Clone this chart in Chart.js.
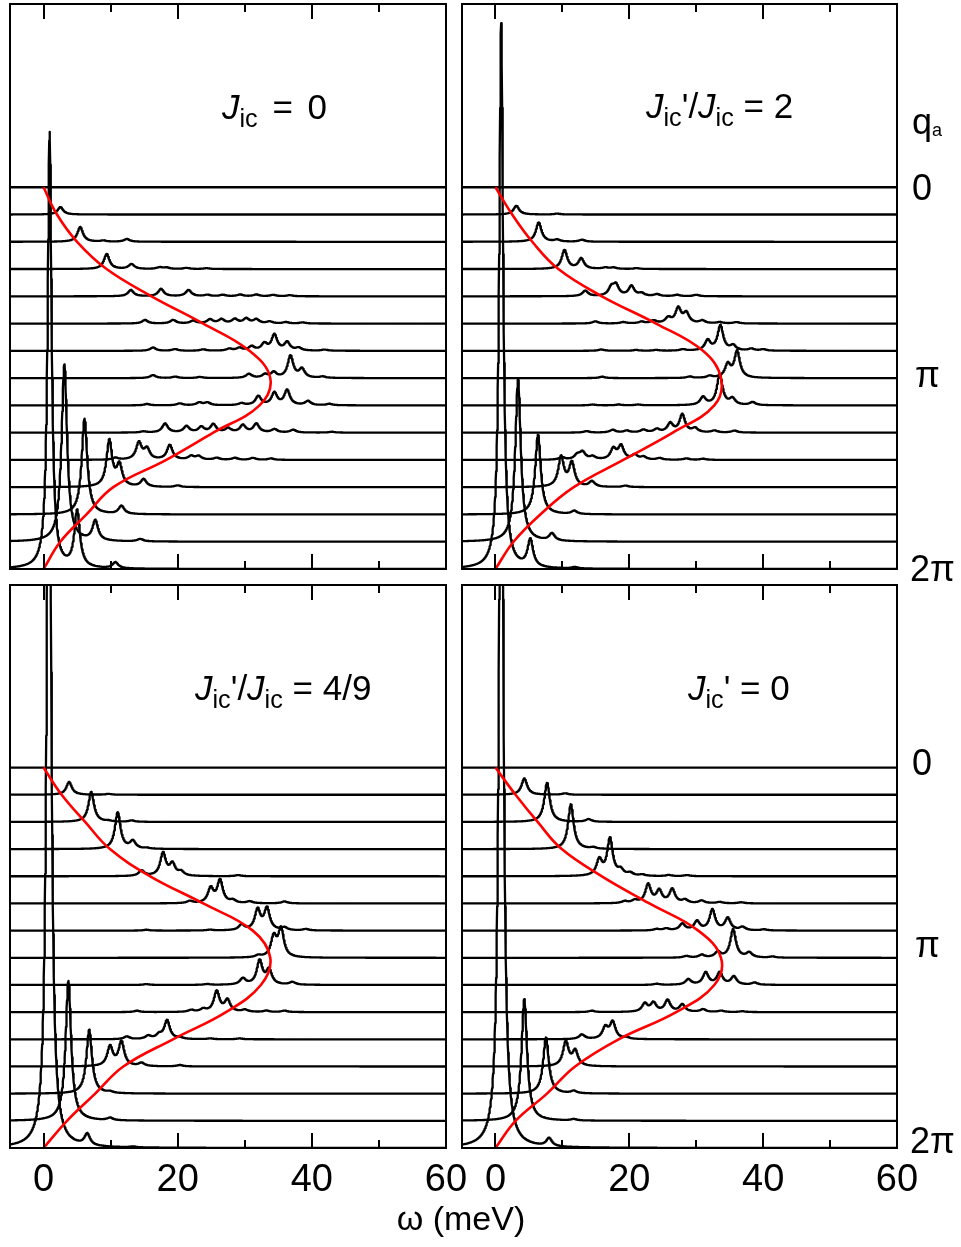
<!DOCTYPE html>
<html lang="en">
<head>
<meta charset="UTF-8">
<title>Spin-wave spectra vs q_a</title>
<script src="https://cdn.jsdelivr.net/npm/chart.js"></script>
<style>
  body { margin: 0; background: #fff; }
  #page { position: relative; width: 961px; height: 1247px; overflow: hidden;
          font-family: "Liberation Sans", Arial, sans-serif; color: #000; }
  #page canvas { position: absolute; left: 0; top: 0; }
  .lbl { position: absolute; white-space: nowrap; line-height: 1; }
  .title { font-size: 35px; }
  .title sub { font-size: 0.72em; vertical-align: -0.3em; line-height: 0; }
  .side { font-size: 36px; }
  .side sub { font-size: 0.5em; vertical-align: -0.1em; line-height: 0; }
  .narrow { font-family: "Liberation Sans Narrow", "Arial Narrow", "Liberation Sans", sans-serif; font-size: 34px; }
</style>
</head>
<body>
<div id="page">
  <canvas id="pA" width="961" height="1247"></canvas>
  <canvas id="pB" width="961" height="1247"></canvas>
  <canvas id="pC" width="961" height="1247"></canvas>
  <canvas id="pD" width="961" height="1247"></canvas>

  <div class="lbl title" style="left:222px; top:89px; word-spacing:5px"><i>J</i><sub>ic</sub> = 0</div>
  <div class="lbl title" style="left:646px; top:88px"><i>J</i><sub>ic</sub>'/<i>J</i><sub>ic</sub> = 2</div>
  <div class="lbl title" style="left:195px; top:670px"><i>J</i><sub>ic</sub>'/<i>J</i><sub>ic</sub> = 4/9</div>
  <div class="lbl title" style="left:688px; top:670px"><i>J</i><sub>ic</sub>' = 0</div>

  <div class="lbl side" style="left:912px; top:104px">q<sub>a</sub></div>
  <div class="lbl side" style="left:912px; top:170px">0</div>
  <div class="lbl side" style="left:915px; top:357px">&pi;</div>
  <div class="lbl side" style="left:910px; top:551px">2&pi;</div>
  <div class="lbl side" style="left:912px; top:745px">0</div>
  <div class="lbl side" style="left:915px; top:927px">&pi;</div>
  <div class="lbl side" style="left:910px; top:1123px">2&pi;</div>

  <div class="lbl narrow" style="left:0; width:922px; text-align:center; top:1201px">&omega; (meV)</div>
</div>

<script>
// energy axis
const omegaMin = -5;
const omegaMax = 60;
const tickLabels = [0, 20, 40, 60];
const majorTicks = [0, 20, 40];
const minorTicks = [10, 30, 50];
// 15 spectra, q_a = 0 (top) ... 2pi (bottom), stacked one unit apart
const nQ = 15;
const yTop = 20.72;

// red dispersion, omega at each q step (top to bottom)
const dispA = [0, 2.0, 5.0, 9.4, 16.1, 23.8, 30.7, 33.8, 32.2, 25.3, 18.3, 10.4, 6.4, 2.5, 0];
const dispB = [0, 2.5, 5.5, 9.4, 15.9, 24.0, 31.0, 33.7, 32.7, 26.5, 19.1, 11.7, 6.7, 2.7, 0];
const dispC = [0, 2.7, 6.2, 9.9, 15.9, 23.8, 31.2, 33.8, 32.4, 27.2, 19.3, 11.9, 7.7, 3.5, 0];
const dispD = [0, 3.0, 6.3, 9.9, 15.9, 23.0, 30.3, 33.7, 32.7, 27.0, 18.4, 11.9, 7.7, 3.0, 0];

// peaks per spectrum: [omega, height, halfwidth(optional)]
const peaksA = [
  [],
  [[2.5, 0.27]],
  [[5.45, 0.54], [8.9, 0.04], [12.4, 0.1]],
  [[9.4, 0.55], [13.1, 0.18], [17.3, 0.06], [18.3, 0.05], [21.3, 0.04], [24.3, 0.03]],
  [[13.0, 0.23], [17.5, 0.27], [21.6, 0.23], [24.4, 0.05], [26.7, 0.05], [29.3, 0.06], [31.7, 0.06], [34.2, 0.05], [36.7, 0.04]],
  [[15.1, 0.13], [19.3, 0.13], [22.3, 0.1], [24.8, 0.15], [26.5, 0.15], [28.5, 0.16], [30.2, 0.18], [31.7, 0.15], [33.7, 0.07], [36.1, 0.05], [38.6, 0.04]],
  [[16.3, 0.12], [19.6, 0.06], [23.8, 0.05], [27.7, 0.07], [29.2, 0.1], [31.0, 0.15], [32.9, 0.25], [34.4, 0.58], [36.3, 0.3], [38.0, 0.1], [41.9, 0.04]],
  [[16.3, 0.11], [19.6, 0.05], [23.3, 0.04], [30.6, 0.15], [33.0, 0.12], [34.3, 0.2], [36.8, 0.81], [38.5, 0.32], [41.6, 0.05]],
  [[15.4, 0.05], [20.3, 0.07], [23.2, 0.1], [24.4, 0.1], [29.5, 0.07], [32.0, 0.33], [34.4, 0.45], [36.3, 0.55], [39.4, 0.15], [42.6, 0.05]],
  [[14.9, 0.04], [18.1, 0.33], [21.3, 0.23], [23.5, 0.2], [25.3, 0.3], [27.5, 0.15], [29.7, 0.27], [31.7, 0.32], [34.4, 0.12], [37.2, 0.1], [43.0, 0.03]],
  [[10.7, 0.07], [14.2, 0.62], [15.4, 0.39], [18.8, 0.54], [22.0, 0.13], [23.1, 0.13], [25.8, 0.07], [28.5, 0.07], [31.2, 0.07], [33.9, 0.05]],
  [[9.8, 1.69], [11.3, 0.77], [14.9, 0.28], [20.0, 0.06]],
  [[6.1, 3.51], [11.6, 0.3]],
  [[3.1, 6.49], [7.7, 0.73], [14.4, 0.09]],
  [[0.9, 16, 0.35], [5.0, 2.07], [10.7, 0.22]]
];

const peaksB = [
  [],
  [[3.1, 0.32], [9.2, 0.03]],
  [[6.45, 0.71], [9.2, 0.07], [12.9, 0.07]],
  [[10.3, 0.69], [12.8, 0.38], [16.4, 0.05], [17.6, 0.05], [21.1, 0.03]],
  [[13.4, 0.2], [17.3, 0.3], [18.0, 0.38], [20.3, 0.37], [21.8, 0.1], [24.1, 0.07], [27.1, 0.05], [30.0, 0.05]],
  [[14.9, 0.08], [19.1, 0.05], [21.8, 0.06], [23.6, 0.1], [25.8, 0.2], [27.3, 0.55], [28.5, 0.37], [30.9, 0.1], [33.5, 0.05], [36.0, 0.05]],
  [[15.8, 0.05], [21.0, 0.03], [24.0, 0.03], [28.0, 0.05], [31.7, 0.37], [33.6, 0.92], [35.5, 0.18], [38.2, 0.07], [40.0, 0.05]],
  [[15.9, 0.05], [29.0, 0.05], [32.0, 0.07], [34.7, 0.48], [36.1, 0.97]],
  [[14.5, 0.03], [18.4, 0.03], [21.3, 0.03], [31.0, 0.29], [33.5, 1.13], [35.4, 0.23], [38.4, 0.11]],
  [[13.6, 0.05], [17.5, 0.1], [19.6, 0.07], [22.1, 0.1], [24.1, 0.12], [26.1, 0.33], [27.9, 0.66], [29.8, 0.15], [32.7, 0.07], [35.7, 0.07]],
  [[9.9, 0.09], [12.2, 0.17], [13.0, 0.27], [14.5, 0.11], [17.6, 0.39], [18.75, 0.5], [20.8, 0.17], [22.1, 0.1], [24.5, 0.06], [28.5, 0.05], [31.0, 0.04]],
  [[9.8, 1.09], [11.4, 0.87], [14.4, 0.2], [19.4, 0.05]],
  [[6.35, 2.93], [11.75, 0.12]],
  [[3.37, 5.94], [8.43, 0.27]],
  [[0.85, 20, 0.35], [5.2, 1.0], [11.8, 0.05]]
];

const peaksC = [
  [],
  [[3.8, 0.47], [9.7, 0.03]],
  [[7.1, 1.1], [9.7, 0.03], [13.1, 0.05]],
  [[11.05, 1.35], [13.3, 0.28], [15.4, 0.03]],
  [[14.6, 0.2], [17.8, 0.84], [19.2, 0.43], [20.5, 0.15], [29.0, 0.04]],
  [[21.8, 0.08], [24.9, 0.54], [26.3, 0.84], [28.2, 0.1], [30.7, 0.07], [35.9, 0.07]],
  [[15.3, 0.03], [24.8, 0.03], [29.5, 0.2], [31.9, 0.75], [33.3, 0.8], [35.9, 0.1], [39.1, 0.05]],
  [[32.0, 0.07], [34.3, 0.73], [35.4, 1.04]],
  [[15.3, 0.03], [24.4, 0.03], [29.7, 0.23], [32.2, 0.88], [33.6, 0.54], [37.1, 0.1]],
  [[13.9, 0.05], [22.0, 0.07], [23.8, 0.1], [25.8, 0.76], [27.4, 0.43], [30.0, 0.08], [33.2, 0.05], [35.9, 0.05]],
  [[12.4, 0.1], [15.6, 0.12], [17.2, 0.15], [18.4, 0.69], [20.3, 0.05], [24.8, 0.03], [29.2, 0.03]],
  [[9.9, 0.72], [11.6, 0.9], [14.6, 0.12], [20.3, 0.05]],
  [[6.8, 2.35], [9.9, 0.05]],
  [[3.7, 5.15], [9.9, 0.09]],
  [[0.8, 35, 0.35], [6.5, 0.42], [13.3, 0.03]]
];

const peaksD = [
  [],
  [[4.3, 0.6], [10.4, 0.05]],
  [[7.7, 1.44], [13.9, 0.1]],
  [[11.26, 1.65], [14.6, 0.05]],
  [[15.5, 0.58], [17.1, 1.37], [18.7, 0.2], [20.1, 0.1], [21.9, 0.05], [25.9, 0.04], [28.6, 0.04]],
  [[19.3, 0.07], [20.8, 0.1], [22.8, 0.69], [24.45, 0.45], [26.4, 0.51], [28.3, 0.12], [30.8, 0.1], [33.5, 0.05], [36.7, 0.04]],
  [[24.1, 0.05], [25.5, 0.07], [27.9, 0.24], [30.1, 0.33], [32.4, 0.76], [34.7, 0.45], [36.9, 0.12], [40.1, 0.04]],
  [[28.5, 0.06], [30.8, 0.1], [33.2, 0.2], [35.5, 1.04], [37.9, 0.18], [41.4, 0.04]],
  [[24.1, 0.04], [28.8, 0.2], [31.4, 0.45], [33.5, 0.45], [35.6, 0.3], [38.7, 0.08]],
  [[14.4, 0.05], [22.3, 0.3], [23.6, 0.33], [25.7, 0.43], [27.9, 0.27], [31.0, 0.1], [33.7, 0.05], [36.9, 0.03]],
  [[12.9, 0.17], [16.4, 0.42], [17.5, 0.62], [19.6, 0.05]],
  [[10.5, 0.9], [11.9, 0.55]],
  [[7.54, 2.07], [11.7, 0.09]],
  [[4.3, 4.48], [11.7, 0.05]],
  [[0.85, 35, 0.35], [8.0, 0.3]]
];

// build a stacked spectrum line from its peak list
function spectrum(peaks, base) {
  const pts = [];
  for (let i = 0; i <= 1300; i++) {
    const w = omegaMin + i * 0.05;
    let y = base;
    peaks.forEach(([w0, h, g = 0.5]) => {
      y += h * g * g / ((w - w0) * (w - w0) + g * g);
    });
    pts.push({ x: w, y: y });
  }
  return pts;
}

// frame + inward ticks top and bottom
const framePlugin = {
  id: 'frame',
  afterDatasetsDraw(chart) {
    const { ctx, chartArea: a, scales: { x } } = chart;
    ctx.save();
    ctx.strokeStyle = '#000';
    ctx.lineWidth = 2;
    ctx.beginPath();
    const tick = (v, len) => {
      const px = Math.round(x.getPixelForValue(v));
      ctx.moveTo(px, a.bottom); ctx.lineTo(px, a.bottom - len);
      ctx.moveTo(px, a.top); ctx.lineTo(px, a.top + len);
    };
    majorTicks.forEach(v => tick(v, 15));
    minorTicks.forEach(v => tick(v, 8));
    ctx.stroke();
    ctx.strokeRect(a.left, a.top, a.right - a.left, a.bottom - a.top);
    ctx.restore();
  }
};

function makePanel(id, box, peaks, disp, withLabels) {
  const datasets = [{
    data: disp.map((w, k) => ({ x: w, y: nQ - 1 - k })),
    borderColor: '#ff0000',
    borderWidth: 2.6,
    tension: 0.4,
    pointRadius: 0
  }];
  peaks.forEach((p, k) => {
    datasets.push({
      data: spectrum(p, nQ - 1 - k),
      borderColor: '#000',
      borderWidth: 2.3,
      borderJoinStyle: 'round',
      tension: 0,
      pointRadius: 0
    });
  });

  const axisH = withLabels ? 60 : 0;
  const xScale = {
    type: 'linear',
    min: omegaMin,
    max: omegaMax,
    display: withLabels,
    grid: { display: false, drawTicks: false },
    border: { display: false },
    afterBuildTicks: s => { s.ticks = tickLabels.map(v => ({ value: v })); },
    ticks: {
      color: '#000',
      padding: 10,
      maxRotation: 0,
      autoSkip: false,
      font: { family: '"Liberation Sans Narrow", "Arial Narrow", "Liberation Sans", sans-serif', size: 38 }
    }
  };
  if (withLabels) xScale.afterFit = s => { s.height = axisH; };

  new Chart(document.getElementById(id), {
    type: 'line',
    data: { datasets },
    plugins: [framePlugin],
    options: {
      responsive: false,
      animation: false,
      events: [],
      parsing: false,
      normalized: true,
      layout: {
        padding: {
          left: box.left,
          right: 961 - box.right,
          top: box.top,
          bottom: 1247 - box.bottom - axisH
        }
      },
      plugins: { legend: { display: false }, tooltip: { enabled: false } },
      scales: {
        x: xScale,
        y: { type: 'linear', min: 0, max: yTop, display: false }
      }
    }
  });
}

makePanel('pA', { left: 10, right: 446, top: 4, bottom: 569 }, peaksA, dispA, false);
makePanel('pB', { left: 462, right: 897, top: 4, bottom: 569 }, peaksB, dispB, false);
makePanel('pC', { left: 10, right: 446, top: 585, bottom: 1148 }, peaksC, dispC, true);
makePanel('pD', { left: 462, right: 897, top: 585, bottom: 1148 }, peaksD, dispD, true);
</script>
</body>
</html>
